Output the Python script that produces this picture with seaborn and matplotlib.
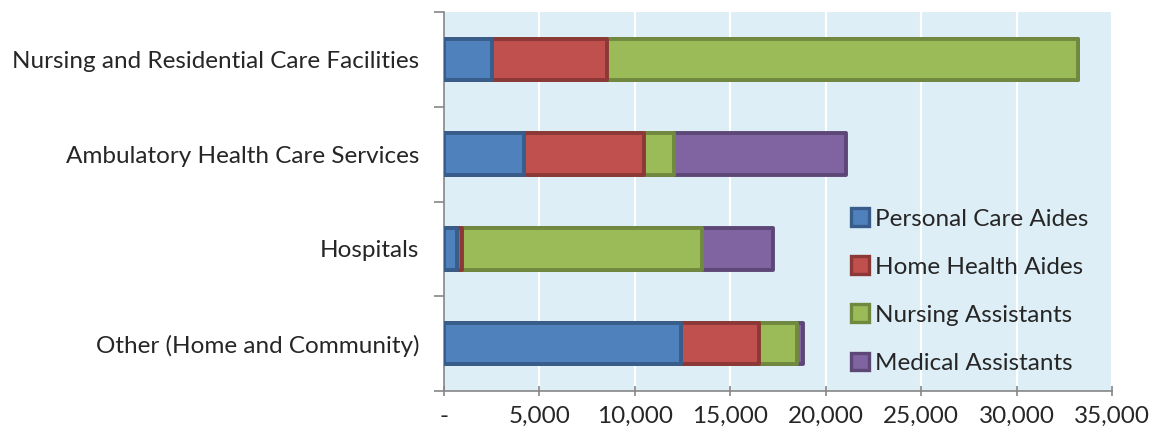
import matplotlib
matplotlib.use("Agg")
import matplotlib.pyplot as plt
import matplotlib.ticker as mticker
from matplotlib.patches import Patch
import seaborn as sns
import pandas as pd
import numpy as np

categories = ["Nursing and Residential Care Facilities",
              "Ambulatory Health Care Services",
              "Hospitals",
              "Other (Home and Community)"]
series_names = ["Personal Care Aides", "Home Health Aides",
                "Nursing Assistants", "Medical Assistants"]
personal_care = [2500, 4200, 700, 12400]
home_health = [6050, 6300, 250, 4100]
nursing_assist = [24650, 1570, 12550, 2000]
medical_assist = [0, 9000, 3750, 300]
x_ticks = [0, 5000, 10000, 15000, 20000, 25000, 30000, 35000]

faces = ["#4F81BD", "#C0504D", "#9BBB59", "#8064A2"]
edges = ["#385D8A", "#8C3836", "#71893F", "#5C4776"]

sns.set_style("white")
plt.rcParams["font.family"] = ["Lato", "DejaVu Sans"]
FS = 17.5

values = [personal_care, home_health, nursing_assist, medical_assist]
cum = np.cumsum(np.array(values, dtype=float), axis=0)
df = pd.DataFrame({"category": categories})
for name, c in zip(series_names, cum):
    df[name] = c

fig = plt.figure(figsize=(11.53, 4.41), dpi=100)
ax = fig.add_axes([444/1153, 50/441, 668/1153, 379/441])
ax.set_facecolor("#DDEEF6")
for x in x_ticks[1:]:
    ax.axvline(x, color="white", lw=1.6, zorder=0)

for i in range(len(series_names) - 1, -1, -1):
    sns.barplot(data=df, y="category", x=series_names[i], orient="h",
                color=faces[i], width=0.44, ax=ax, zorder=2 + (3 - i),
                edgecolor=edges[i], linewidth=2.8, saturation=1)
for p in ax.patches:
    p.set_joinstyle("round")

ax.set_xlim(0, 35000)
ax.set_ylim(3.5, -0.5)
ax.set_xlabel("")
ax.set_ylabel("")
ax.set_xticks(x_ticks)
ax.xaxis.set_major_formatter(mticker.FuncFormatter(
    lambda v, p: "-" if v == 0 else f"{int(v):,}"))
ax.set_yticks(range(len(categories)))
ax.set_yticklabels(categories)
ax.set_yticks(np.arange(-0.5, 4.0, 1.0), minor=True)
ax.tick_params(axis="y", which="major", length=0, pad=18, labelsize=FS)
ax.tick_params(axis="y", which="minor", length=7, width=1.2, color="#868686", left=True)
ax.tick_params(axis="x", which="major", length=7, width=1.2, color="#868686",
               labelsize=FS, pad=7, bottom=True, direction="inout")
for s in ["top", "right"]:
    ax.spines[s].set_visible(False)
for s in ["left", "bottom"]:
    ax.spines[s].set_color("#868686")
    ax.spines[s].set_linewidth(1.2)

handles = [Patch(facecolor=f, edgecolor=e, linewidth=2.4) for f, e in zip(faces, edges)]
ax.legend(handles, series_names, loc="upper left", bbox_to_anchor=(0.594, 0.508),
          frameon=False, fontsize=FS, labelspacing=1.1, handlelength=0.75,
          handleheight=0.75, handletextpad=0.25, borderaxespad=0)

fig.savefig("out.png", dpi=100)
